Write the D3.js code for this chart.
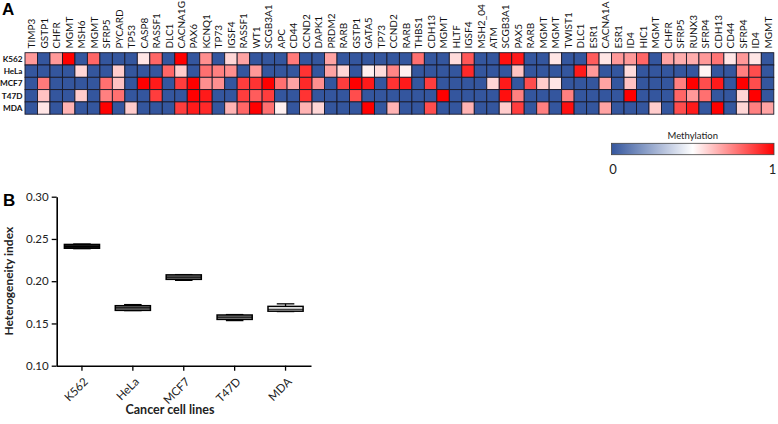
<!DOCTYPE html>
<html>
<head>
<meta charset="utf-8">
<script src="https://cdn.jsdelivr.net/npm/d3@7/dist/d3.min.js"></script>
<style>
  body { margin: 0; background: #fff; }
  svg { display: block; }
  text { font-family: Lato, "Open Sans", sans-serif; }
</style>
</head>
<body>
<svg id="chart" width="778" height="424"></svg>
<script>
// ---------- Panel A data ----------
const genes = ["TIMP3","GSTP1","CHFR","MGMT","MSH6","MGMT","SFRP5","PYCARD","TP53","CASP8",
  "RASSF1","DLC1","CACNA1G","PAX6","KCNQ1","TP73","IGSF4","RASSF1","WT1","SCGB3A1",
  "APC","CD44","CCND2","DAPK1","PRDM2","RARB","GSTP1","GATA5","TP73","CCND2",
  "RARB","THBS1","CDH13","MGMT","HLTF","IGSF4","MSH2_04","ATM","SCGB3A1","PAX5",
  "RARB","MGMT","MGMT","TWIST1","DLC1","ESR1","CACNA1A","ESR1","ID4","HIC1",
  "MGMT","CHFR","SFRP5","RUNX3","SFRP4","CDH13","CD44","SFRP4","ID4","MGMT"];
const cellLines = ["K562","HeLa","MCF7","T47D","MDA"];

const methK562 = [0.70,0,0.70,1.0,0,0.80,0,0,0,0.55, 0.80,0,1.0,0,0.72,0,0.58,0.68,0,0,
  0,0.76,0,0,0.68,0,0,0,0,0, 0,0.78,0,0,0.57,0.83,0,0,0.97,0.95,
  0,0,0.55,0,0,0.82,0.55,0.70,0.70,0.80, 0,0.68,0.66,0.66,0.70,0.77,0.55,0.70,0.55,0];
const methHeLa = [0,0,0,0,0.58,0,0,0.60,0,0, 0,0.80,0.60,0,0.78,0.75,0.72,0,0.70,0,
  0,0,0.90,0,0.68,0.58,0,0.53,0.57,0.74, 0.53,0,0,0,0,0.92,0,0,0,0.62,
  0,0,0,0,0.95,0.70,0,0,0.57,0, 0,0,0,0,0.52,0,0,0.75,0.85,0];
const methMCF7 = [0,0.76,0,0,0,0,0.78,0.62,0,1.0, 0.95,0,0.88,1.0,0.72,0.72,0,0.88,0.90,1.0,
  0.78,0.68,0.92,0.72,0,0.88,1.0,0.95,0,0.90, 0.95,0,0.88,0,0,0,0,0.58,0.95,0,
  0.85,0.60,0.55,0,0,0,0.68,0,0.62,0, 0,0,0.75,1.0,0.85,0.95,0,1.0,0.85,0];
const methT47D = [0,0.62,0,0,0.60,0,0.75,0.78,0,0, 0.88,0,0,1.0,0.95,0,0,0.88,0.82,0.88,
  0,0,0.90,0,0,0,0.85,0,0,0, 0,0,0,1.0,0,0,0,0,0.97,0.75,
  0,0,0,0.75,0,0,0,0,1.0,0, 0,0,0.80,0.70,0.78,0,0,0.58,1.0,0];
const methMDA = [0,0.55,0,0.65,0,0,1.0,0,0.60,0, 0,0,0.88,0.95,0.92,0,0.65,0.80,1.0,0.78,
  0.53,0,0.65,0.58,0,0,0,1.0,0,0.65, 0,0,0.85,0,0,0.65,0,0,0.60,0.88,
  0,0.75,0,0.97,0,0,0.68,0,0,0, 0.60,0,0.85,0.95,0,1.0,0,0.58,0.75,0.68];
const methylation = [methK562, methHeLa, methMCF7, methT47D, methMDA];
const legendTicks = [0, 1];

// ---------- Panel B data ----------
const hiMin    = [0.2385, 0.1652, 0.2010, 0.1534, 0.1641];
const hiQ1     = [0.2390, 0.1655, 0.2022, 0.1548, 0.1645];
const hiMedian = [0.2410, 0.1685, 0.2048, 0.1575, 0.1668];
const hiQ3     = [0.2435, 0.1710, 0.2075, 0.1600, 0.1702];
const hiMax    = [0.2440, 0.1723, 0.2078, 0.1605, 0.1732];
const boxFills = ["#1e1e1e", "#8a8a8a", "#8a8a8a", "#a8a8a8", "#ffffff"];
const yTicks = [0.10, 0.15, 0.20, 0.25, 0.30];

const svg = d3.select("#chart");
svg.append("rect").attr("width", 778).attr("height", 424).attr("fill", "#fff");

// ---------- Panel A ----------
const color = d3.scaleLinear().domain([0, 0.5, 1]).range(["#34569e", "#ffffff", "#ff0000"]);
const hx = d3.scaleBand().domain(d3.range(genes.length)).range([25, 773.8]);
const hy = d3.scaleBand().domain(cellLines).range([52.7, 114.2]);

svg.append("text").attr("x", 2).attr("y", 15).text("A")
  .style("font-family", "Arial, 'Liberation Sans', sans-serif")
  .attr("font-size", 17).attr("font-weight", "bold");

const cells = [];
cellLines.forEach((cl, r) => genes.forEach((g, c) => cells.push({r: cl, c, v: methylation[r][c]})));
svg.append("g").selectAll("rect").data(cells).join("rect")
  .attr("x", d => hx(d.c)).attr("y", d => hy(d.r))
  .attr("width", hx.bandwidth()).attr("height", hy.bandwidth())
  .attr("fill", d => color(d.v))
  .attr("stroke", "#1a1a2a").attr("stroke-width", 0.9);

svg.append("g").selectAll("text").data(genes).join("text")
  .attr("transform", (d, i) => `translate(${hx(i) + hx.bandwidth() / 2 + 0.5},48.5) rotate(-90)`)
  .attr("dy", "0.35em").attr("text-anchor", "start")
  .attr("font-size", 10).attr("fill", "#111")
  .text(d => d);

svg.append("g").selectAll("text").data(cellLines).join("text")
  .attr("x", 22.5).attr("y", d => hy(d) + hy.bandwidth() / 2)
  .attr("dy", "0.35em").attr("text-anchor", "end")
  .attr("font-size", 8.2).attr("font-weight", "bold").attr("fill", "#111")
  .text(d => d);

// legend
const defs = svg.append("defs");
const grad = defs.append("linearGradient").attr("id", "methGrad");
d3.range(0, 1.001, 0.1).forEach(t => grad.append("stop")
  .attr("offset", `${t * 100}%`).attr("stop-color", color(t)));
const lx = d3.scaleLinear().domain([0, 1]).range([611.5, 774]);
svg.append("rect").attr("x", lx(0)).attr("y", 143.3).attr("width", lx(1) - lx(0)).attr("height", 11.4)
  .attr("fill", "url(#methGrad)").attr("stroke", "#444").attr("stroke-width", 0.8);
svg.append("text").attr("x", (lx(0) + lx(1)) / 2).attr("y", 136).attr("dy", "0.35em")
  .attr("text-anchor", "middle").attr("font-size", 9.5).attr("fill", "#222").text("Methylation");
svg.append("g").selectAll("text").data(legendTicks).join("text")
  .attr("x", d => lx(d) + (d === 0 ? 1.5 : -1.5)).attr("y", 169.5).attr("dy", "0.35em")
  .attr("text-anchor", "middle").attr("font-size", 13).attr("fill", "#222")
  .text(d => d);

// ---------- Panel B ----------
svg.append("text").attr("x", 3).attr("y", 206).text("B")
  .style("font-family", "Arial, 'Liberation Sans', sans-serif")
  .attr("font-size", 17).attr("font-weight", "bold");

const y = d3.scaleLinear().domain([0.10, 0.30]).range([365.7, 196.7]);
const x = d3.scaleBand().domain(cellLines).range([56.5, 311])
  .paddingInner(0.31).paddingOuter(0.155);

const yAxis = svg.append("g").attr("transform", "translate(56.7,0)")
  .call(d3.axisLeft(y).tickValues(yTicks).tickFormat(d3.format(".2f")).tickSize(5).tickSizeOuter(0));
yAxis.select(".domain").attr("stroke", "#000").attr("stroke-width", 1.6);
yAxis.selectAll(".tick line").attr("stroke", "#000").attr("stroke-width", 1.3);
yAxis.selectAll(".tick text").attr("font-size", 11.5).attr("fill", "#222").attr("x", -8)
  .style("font-family", "Lato, sans-serif");

const xAxis = svg.append("g").attr("transform", "translate(0,365.7)")
  .call(d3.axisBottom(x).tickSize(5).tickSizeOuter(0));
xAxis.select(".domain").attr("stroke", "#000").attr("stroke-width", 1.6);
xAxis.selectAll(".tick line").attr("stroke", "#000").attr("stroke-width", 1.3);
xAxis.selectAll(".tick text").attr("font-size", 11.5).attr("fill", "#222")
  .style("font-family", "Lato, sans-serif")
  .attr("text-anchor", "end").attr("dy", "0.35em").attr("y", 0)
  .attr("transform", "translate(4,14) rotate(-45)");

const boxes = cellLines.map((c, i) => ({c, min: hiMin[i], q1: hiQ1[i], med: hiMedian[i], q3: hiQ3[i], max: hiMax[i], fill: boxFills[i]}));
const bw = x.bandwidth();
const capW = bw * 0.5;
const bg = svg.append("g").selectAll("g").data(boxes).join("g");
bg.append("line").attr("x1", d => x(d.c) + bw / 2).attr("x2", d => x(d.c) + bw / 2)
  .attr("y1", d => y(d.max)).attr("y2", d => y(d.min)).attr("stroke", "#000").attr("stroke-width", 1.3);
bg.append("line").attr("x1", d => x(d.c) + bw / 2 - capW / 2).attr("x2", d => x(d.c) + bw / 2 + capW / 2)
  .attr("y1", d => y(d.max)).attr("y2", d => y(d.max)).attr("stroke", "#000").attr("stroke-width", 1.3);
bg.append("line").attr("x1", d => x(d.c) + bw / 2 - capW / 2).attr("x2", d => x(d.c) + bw / 2 + capW / 2)
  .attr("y1", d => y(d.min)).attr("y2", d => y(d.min)).attr("stroke", "#000").attr("stroke-width", 1.3);
bg.append("rect").attr("x", d => x(d.c)).attr("width", bw)
  .attr("y", d => y(d.q3)).attr("height", d => y(d.q1) - y(d.q3))
  .attr("fill", d => d.fill).attr("stroke", "#000").attr("stroke-width", 1.5);
bg.append("line").attr("x1", d => x(d.c)).attr("x2", d => x(d.c) + bw)
  .attr("y1", d => y(d.med)).attr("y2", d => y(d.med)).attr("stroke", "#000").attr("stroke-width", 1.2);

svg.append("text").attr("transform", `translate(9,${(y(0.10) + y(0.30)) / 2}) rotate(-90)`)
  .attr("dy", "0.35em").attr("text-anchor", "middle")
  .attr("font-size", 12).attr("font-weight", "bold").attr("fill", "#222").text("Heterogeneity index");
svg.append("text").attr("x", 170).attr("y", 410).attr("dy", "0.35em").attr("text-anchor", "middle")
  .attr("font-size", 12.5).attr("font-weight", "bold").attr("fill", "#222").text("Cancer cell lines");
</script>
</body>
</html>
